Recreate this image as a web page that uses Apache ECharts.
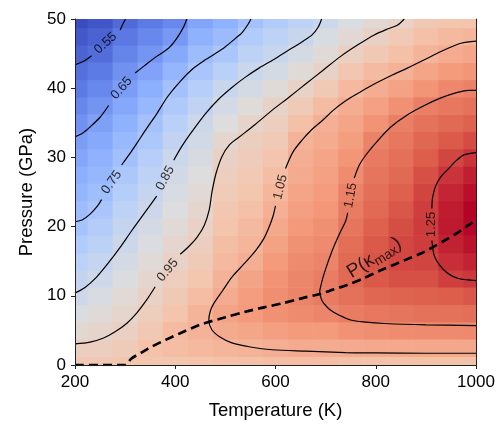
<!DOCTYPE html>
<html>
<head>
<meta charset="utf-8">
<script src="https://cdn.jsdelivr.net/npm/echarts@6.0.0/dist/echarts.min.js"></script>
<style>
html, body { margin: 0; padding: 0; background: #fff; }
#chart { width: 498px; height: 425px; }
</style>
</head>
<body>
<div id="chart"></div>
<script>
// grid axes
var temps = [200, 250, 300, 350, 400, 450, 500, 550, 600, 650, 700, 750, 800, 850, 900, 950, 1000];
var pressures = [0, 2.5, 5, 7.5, 10, 12.5, 15, 17.5, 20, 22.5, 25, 27.5, 30, 32.5, 35, 37.5, 40, 42.5, 45, 47.5, 50];

// kappa, one column per temperature (values go up in pressure)
var kappa = [
  [0.99, 0.96, 0.923, 0.889, 0.855, 0.83, 0.805, 0.781, 0.757, 0.735, 0.715, 0.695, 0.674, 0.654, 0.631, 0.607, 0.583, 0.559, 0.535, 0.513, 0.49],
  [0.99, 0.964, 0.937, 0.911, 0.885, 0.858, 0.834, 0.809, 0.785, 0.761, 0.739, 0.719, 0.699, 0.679, 0.66, 0.636, 0.61, 0.583, 0.556, 0.533, 0.51],
  [1.0, 0.977, 0.957, 0.936, 0.916, 0.895, 0.875, 0.854, 0.833, 0.811, 0.79, 0.768, 0.746, 0.723, 0.7, 0.678, 0.655, 0.629, 0.603, 0.577, 0.55],
  [1.0, 1.01, 0.99, 0.97, 0.952, 0.932, 0.913, 0.893, 0.874, 0.855, 0.834, 0.813, 0.792, 0.77, 0.749, 0.721, 0.693, 0.666, 0.638, 0.61, 0.582],
  [1.0, 1.02, 1.025, 1.005, 0.985, 0.967, 0.95, 0.933, 0.917, 0.9, 0.883, 0.867, 0.85, 0.825, 0.8, 0.775, 0.75, 0.714, 0.679, 0.643, 0.61],
  [1.005, 1.03, 1.045, 1.043, 1.02, 1.0, 0.982, 0.964, 0.947, 0.931, 0.915, 0.899, 0.884, 0.868, 0.852, 0.823, 0.793, 0.762, 0.732, 0.7, 0.67],
  [1.01, 1.04, 1.065, 1.08, 1.062, 1.044, 1.031, 1.018, 1.005, 0.992, 0.979, 0.966, 0.954, 0.929, 0.901, 0.872, 0.841, 0.803, 0.765, 0.731, 0.7],
  [1.015, 1.046, 1.075, 1.1, 1.095, 1.08, 1.055, 1.04, 1.027, 1.013, 1.0, 0.987, 0.973, 0.96, 0.941, 0.909, 0.876, 0.844, 0.813, 0.781, 0.75],
  [1.02, 1.055, 1.09, 1.12, 1.125, 1.115, 1.1, 1.085, 1.068, 1.053, 1.036, 1.018, 1.001, 0.983, 0.966, 0.946, 0.911, 0.876, 0.843, 0.811, 0.78],
  [1.02, 1.065, 1.1, 1.13, 1.143, 1.14, 1.13, 1.12, 1.105, 1.09, 1.078, 1.065, 1.055, 1.045, 1.013, 0.982, 0.95, 0.912, 0.874, 0.84, 0.81],
  [1.02, 1.06, 1.1, 1.14, 1.158, 1.155, 1.143, 1.132, 1.121, 1.109, 1.098, 1.087, 1.076, 1.064, 1.053, 1.023, 0.985, 0.948, 0.915, 0.883, 0.85],
  [1.015, 1.065, 1.118, 1.155, 1.175, 1.19, 1.19, 1.18, 1.17, 1.158, 1.146, 1.129, 1.111, 1.093, 1.076, 1.058, 1.03, 0.993, 0.957, 0.922, 0.89],
  [1.01, 1.067, 1.125, 1.165, 1.195, 1.215, 1.22, 1.215, 1.205, 1.19, 1.18, 1.17, 1.16, 1.144, 1.115, 1.087, 1.058, 1.025, 0.989, 0.954, 0.92],
  [1.01, 1.069, 1.129, 1.17, 1.2, 1.225, 1.235, 1.235, 1.228, 1.217, 1.205, 1.19, 1.178, 1.165, 1.152, 1.119, 1.085, 1.05, 1.015, 0.983, 0.95],
  [1.01, 1.07, 1.13, 1.175, 1.205, 1.225, 1.238, 1.246, 1.248, 1.245, 1.238, 1.225, 1.21, 1.193, 1.173, 1.152, 1.114, 1.076, 1.041, 1.013, 0.985],
  [1.01, 1.07, 1.132, 1.175, 1.21, 1.244, 1.263, 1.277, 1.285, 1.283, 1.273, 1.258, 1.237, 1.213, 1.189, 1.165, 1.136, 1.1, 1.063, 1.03, 1.0],
  [1.01, 1.07, 1.133, 1.18, 1.217, 1.252, 1.275, 1.295, 1.308, 1.31, 1.298, 1.28, 1.258, 1.23, 1.202, 1.174, 1.146, 1.11, 1.075, 1.04, 1.005]
];

// contour lines [T, P], split where the label sits
var c055 = [
  [[200, 43.4], [217, 43.9], [233, 44.7]],
  [[290, 48.4], [297, 49.5], [301, 50]]
];
var c065 = [
  [[200, 33.0], [215, 33.5], [230, 34.4], [250, 35.8], [267, 37.5]],
  [[320, 42.2], [343, 43.5], [363, 44.6], [387, 45.8], [403, 47.2], [417, 48.9], [423, 50]]
];
var c075 = [
  [[200, 20.7], [215, 21.0], [230, 21.8], [245, 23.0], [253, 23.9]],
  [[293, 28.9], [308, 30.4], [323, 32.0], [343, 34.2], [363, 36.3], [385, 38.8], [410, 41.0], [435, 42.8], [460, 44.1], [480, 45.0], [500, 46.0], [520, 47.2], [533, 48.0], [545, 49.2], [551, 50]]
];
var c085 = [
  [[200, 10.4], [220, 11.2], [243, 12.7], [265, 14.6], [290, 17.0], [313, 19.4], [337, 21.8], [363, 24.4]],
  [[397, 29.6], [413, 31.6], [430, 33.4], [460, 36.3], [485, 38.3], [513, 40.1], [540, 41.6], [567, 42.9], [600, 44.3], [633, 45.8], [655, 46.8], [673, 47.7], [685, 48.8], [692, 50]]
];
var c095 = [
  [[200, 3.05], [230, 3.3], [257, 3.9], [280, 4.8], [303, 6.0], [323, 7.5], [343, 9.4], [360, 11.3]],
  [[410, 16.0], [428, 17.2], [443, 18.4], [458, 20.2], [468, 22.5], [473, 24.9], [481, 27.6], [493, 30.1], [508, 31.8], [527, 32.9], [560, 34.8], [593, 36.8], [627, 38.7], [660, 40.6], [695, 42.6], [730, 44.6], [765, 46.3], [797, 47.7], [825, 48.6], [843, 49.1], [857, 50]]
];
var c105 = [
  [[1000, 1.7], [900, 1.7], [800, 1.75], [740, 1.8], [660, 2.0], [593, 2.2], [550, 2.6], [513, 3.2], [490, 4.0], [473, 5.1], [467, 6.5], [470, 7.8], [477, 8.9], [495, 10.8], [513, 12.7], [537, 14.6], [560, 16.5], [577, 18.3], [587, 19.9], [595, 21.5], [600, 23.0]],
  [[620, 28.4], [635, 30.8], [653, 32.5], [672, 34.0], [693, 35.3], [715, 36.8], [740, 38.2], [770, 39.5], [797, 40.6], [830, 41.8], [863, 42.9], [897, 44.1], [930, 45.3], [955, 46.1], [970, 46.5], [1000, 46.8]]
];
var c115 = [
  [[1000, 5.7], [900, 5.8], [817, 6.0], [780, 6.2], [750, 6.5], [727, 7.2], [710, 7.9], [700, 8.6], [693, 9.3], [688, 10.5], [690, 11.3], [697, 13.2], [713, 16.5], [728, 19.0], [740, 20.8], [744, 22]],
  [[757, 27.0], [768, 29.0], [783, 30.6], [805, 32.5], [830, 34.4], [862, 36.1], [897, 37.5], [930, 38.6], [963, 39.4], [985, 39.7], [1000, 39.7]]
];
var c125 = [
  [[1000, 12.2], [983, 12.3], [965, 12.5], [950, 12.95], [935, 13.8], [923, 14.9], [916, 16.0], [912, 18.0]],
  [[912, 22.6], [913, 24.0], [917, 25.3], [923, 26.4], [932, 27.4], [943, 28.2], [960, 29.5], [977, 30.4], [1000, 30.7]]
];
var contours = [c055, c065, c075, c085, c095, c105, c115, c125];

// label text, T, P, angle
var contourLabels = [
  ['0.55', 261, 46.5, 42],
  ['0.65', 293, 40.0, 49],
  ['0.75', 273, 26.4, 55],
  ['0.85', 380, 27.0, 62],
  ['0.95', 385, 13.7, 50],
  ['1.05', 610, 25.7, 76],
  ['1.15', 750, 24.5, 80],
  ['1.25', 912, 20.3, 90]
];

// pressure of max kappa
var pKappaMax = [[200, 0], [300, 0], [312, 0.9], [335, 1.9], [357, 2.8], [383, 3.7], [410, 4.6], [435, 5.4], [457, 6.0], [500, 6.9], [540, 7.7], [575, 8.3], [613, 8.9], [650, 9.6], [690, 10.3], [715, 10.9], [740, 11.5], [775, 12.5], [810, 13.7], [840, 14.6], [863, 15.3], [890, 16.1], [913, 17.0], [940, 18.1], [963, 19.1], [985, 20.2], [1000, 21.0]];

var coolwarm = ['#3b4cc0', '#6180e9', '#8db0fe', '#b8d0f9', '#dddddd', '#f4c5ad', '#f4997a', '#dd604c', '#b40426'];
var font = '"Liberation Sans", Arial, Helvetica, sans-serif';

var cells = [];
for (var i = 0; i < temps.length; i++) {
  for (var j = 0; j < pressures.length; j++) {
    cells.push([temps[i], pressures[j], kappa[i][j]]);
  }
}

var series = [{
  type: 'custom',
  data: cells,
  z: 1,
  renderItem: function (params, api) {
    var t = api.value(0), p = api.value(1);
    var x0 = Math.max(t - 25, 200), x1 = Math.min(t + 25, 1000);
    var y0 = Math.max(p - 1.25, 0), y1 = Math.min(p + 1.25, 50);
    var a = api.coord([x0, y1]);
    var b = api.coord([x1, y0]);
    return {
      type: 'rect',
      shape: { x: a[0], y: a[1], width: b[0] - a[0] + 0.6, height: b[1] - a[1] + 0.6 },
      style: { fill: api.visual('color') }
    };
  }
}];

contours.forEach(function (segs) {
  segs.forEach(function (seg) {
    series.push({
      type: 'line',
      data: seg,
      smooth: 0.3,
      showSymbol: false,
      silent: true,
      z: 3,
      lineStyle: { color: '#000', width: 1.2 }
    });
  });
});

series.push({
  type: 'line',
  data: pKappaMax,
  smooth: 0.3,
  showSymbol: false,
  silent: true,
  z: 4,
  lineStyle: { color: '#000', width: 2.7, type: [9, 5] }
});

series.push({
  type: 'scatter',
  symbolSize: 0,
  silent: true,
  z: 5,
  data: contourLabels.map(function (l) {
    return {
      value: [l[1], l[2]],
      label: { show: true, position: 'inside', formatter: l[0], rotate: l[3],
        fontSize: 13, fontFamily: font, color: '#000' }
    };
  }).concat([{
    value: [797, 15.5],
    label: {
      show: true, position: 'inside', rotate: 32,
      formatter: '{a|P(κ}{b|max}{a|)}',
      rich: {
        a: { fontSize: 19, fontFamily: font, color: '#000', lineHeight: 24 },
        b: { fontSize: 13.5, fontFamily: font, color: '#000', verticalAlign: 'bottom', lineHeight: 24, padding: [9, 0, 0, 0] }
      }
    }
  }])
});

var chart = echarts.init(document.getElementById('chart'));
chart.setOption({
  animation: false,
  backgroundColor: '#fff',
  grid: { left: 75, right: 22, top: 19, bottom: 56 },
  visualMap: {
    show: false,
    type: 'continuous',
    seriesIndex: 0,
    dimension: 2,
    min: 0.49,
    max: 1.31,
    inRange: { color: coolwarm }
  },
  xAxis: [{
    type: 'value',
    min: 200, max: 1000, interval: 200,
    name: 'Temperature (K)',
    nameLocation: 'middle',
    nameGap: 36,
    nameTextStyle: { fontSize: 18.5, fontFamily: font, color: '#000' },
    z: 10,
    axisLine: { lineStyle: { color: '#222', width: 1 } },
    axisTick: { length: 4, lineStyle: { color: '#222' } },
    axisLabel: { fontSize: 17, fontFamily: font, color: '#000', margin: 9,
      formatter: function (v) { return String(v); } },
    splitLine: { show: false }
  }, {
    type: 'value', position: 'top', min: 200, max: 1000, z: 10,
    axisLine: { show: true, lineStyle: { color: '#222', width: 1 } },
    axisTick: { show: false }, axisLabel: { show: false }, splitLine: { show: false }
  }],
  yAxis: [{
    type: 'value',
    min: 0, max: 50, interval: 10,
    name: 'Pressure (GPa)',
    nameLocation: 'middle',
    nameGap: 38,
    nameTextStyle: { fontSize: 18.5, fontFamily: font, color: '#000' },
    z: 10,
    axisLine: { show: true, lineStyle: { color: '#222', width: 1 } },
    axisTick: { show: true, length: 4, lineStyle: { color: '#222' } },
    axisLabel: { fontSize: 17, fontFamily: font, color: '#000', margin: 9 },
    splitLine: { show: false }
  }, {
    type: 'value', position: 'right', min: 0, max: 50, z: 10,
    axisLine: { show: true, lineStyle: { color: '#222', width: 1 } },
    axisTick: { show: false }, axisLabel: { show: false }, splitLine: { show: false }
  }],
  series: series
});
</script>
</body>
</html>
